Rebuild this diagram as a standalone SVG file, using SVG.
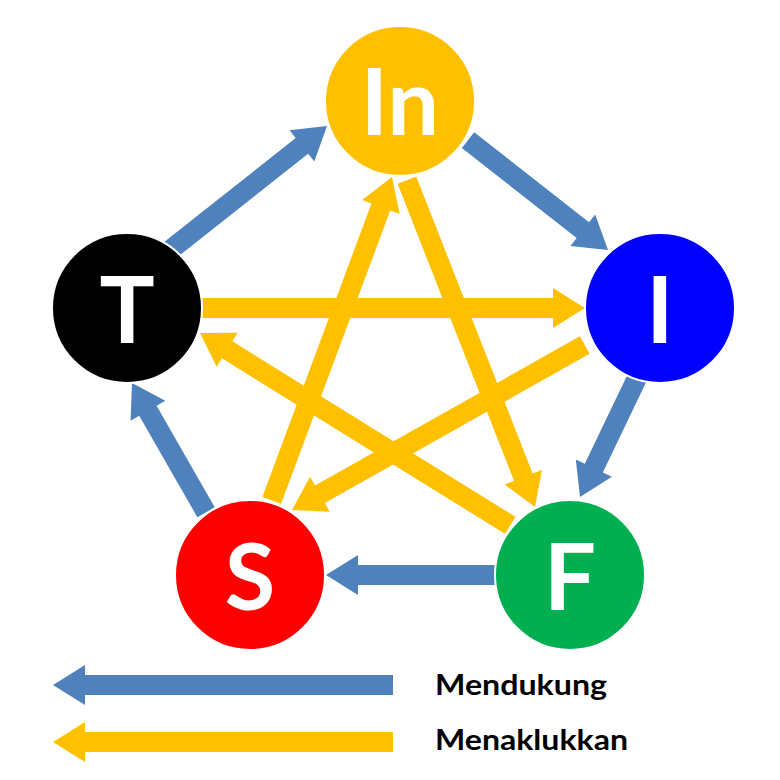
<svg xmlns="http://www.w3.org/2000/svg" width="780" height="780" viewBox="0 0 780 780">
<style>
.sup{fill:#4F81BD}
.con{fill:#FFC000}
.node{stroke:#fff;stroke-width:2}
.lbl{font-family:Lato,"Liberation Sans",Arial,sans-serif;font-weight:bold;font-size:92px;fill:#fff;text-anchor:middle}
.leg{font-family:Lato,"Liberation Sans",Arial,sans-serif;font-weight:bold;font-size:28px;fill:#000}
</style>
<rect width="780" height="780" fill="#fff"/>
<g id="connectors">
  <polygon class="sup" transform="translate(327,126) rotate(-38.35)" points="0,0 -32,-20 -32,-10 -201,-10 -201,10 -32,10 -32,20"/>
  <polygon class="sup" transform="translate(608,250) rotate(38.16)" points="0,0 -32,-20 -32,-10 -178,-10 -178,10 -32,10 -32,20"/>
  <polygon class="sup" transform="translate(580,497) rotate(115.6)" points="0,0 -32,-20 -32,-10 -134,-10 -134,10 -32,10 -32,20"/>
  <polygon class="sup" transform="translate(326,575) rotate(180)" points="0,0 -32,-20 -32,-10 -169,-10 -169,10 -32,10 -32,20"/>
  <polygon class="sup" transform="translate(132,383) rotate(240.2)" points="0,0 -32,-20 -32,-10 -149,-10 -149,10 -32,10 -32,20"/>
  <polygon class="con" transform="translate(585,308) rotate(0)" points="0,0 -32,-20 -32,-10 -383,-10 -383,10 -32,10 -32,20"/>
  <polygon class="con" transform="translate(292,510) rotate(150.6)" points="0,0 -32,-20 -32,-10 -336,-10 -336,10 -32,10 -32,20"/>
  <polygon class="con" transform="translate(392,177) rotate(-69.6)" points="0,0 -32,-20 -32,-10 -345,-10 -345,10 -32,10 -32,20"/>
  <polygon class="con" transform="translate(535,507) rotate(68.6)" points="0,0 -32,-20 -32,-10 -351,-10 -351,10 -32,10 -32,20"/>
  <polygon class="con" transform="translate(200,333) rotate(211.8)" points="0,0 -32,-20 -32,-10 -365,-10 -365,10 -32,10 -32,20"/>
</g>
<g id="node-In"><circle class="node" cx="400" cy="101" r="75" fill="#FFC000"/><text class="lbl" x="400" y="135">In</text></g>
<g id="node-I"><circle class="node" cx="660" cy="308" r="75" fill="#0000FF"/><text class="lbl" x="660" y="343">I</text></g>
<g id="node-T"><circle class="node" cx="127" cy="308" r="75" fill="#000000"/><text class="lbl" x="127" y="343">T</text></g>
<g id="node-S"><circle class="node" cx="250" cy="575" r="75" fill="#FF0000"/><text class="lbl" x="250" y="610">S</text></g>
<g id="node-F"><circle class="node" cx="570" cy="575" r="75" fill="#00B050"/><text class="lbl" x="570" y="610">F</text></g>
<g id="legend">
  <polygon class="sup" transform="translate(53,685) rotate(180)" points="0,0 -32,-20 -32,-10 -340,-10 -340,10 -32,10 -32,20"/>
  <polygon class="con" transform="translate(53,742) rotate(180)" points="0,0 -32,-20 -32,-10 -340,-10 -340,10 -32,10 -32,20"/>
  <text class="leg" x="435" y="695" textLength="172" lengthAdjust="spacingAndGlyphs">Mendukung</text>
  <text class="leg" x="435" y="750" textLength="193" lengthAdjust="spacingAndGlyphs">Menaklukkan</text>
</g>
</svg>
